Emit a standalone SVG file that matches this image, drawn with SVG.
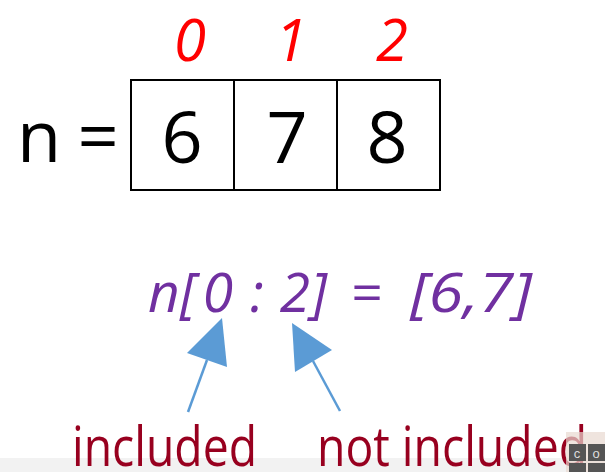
<svg xmlns="http://www.w3.org/2000/svg" width="605" height="472" viewBox="0 0 605 472">
<style>
.blk{font-family:"Open Sans","Liberation Sans",sans-serif;fill:#000}
.idx{font-family:"Open Sans","Liberation Sans",sans-serif;font-style:italic;fill:#ff0000;font-size:58px;text-anchor:middle}
.pur{font-family:"Open Sans","Liberation Sans",sans-serif;font-style:italic;fill:#7030a0;font-size:55px}
.lbl{font-family:"Open Sans","Liberation Sans",sans-serif;fill:#98001f;font-size:55px}
.arr{fill:#5b9bd5;stroke:none}
.shaft{stroke:#5b9bd5;stroke-width:2.5;fill:none}
</style>
<rect width="605" height="472" fill="#ffffff"/>
<rect x="0" y="458" width="605" height="14" fill="#f2f2f2"/>
<g id="label-n">
<text class="blk" x="17" y="162" font-size="72">n</text>
<text class="blk" x="98" y="162" font-size="72" text-anchor="middle">=</text>
</g>
<g id="indices">
<text class="idx" x="190" y="61">0</text>
<text class="idx" x="291" y="61">1</text>
<text class="idx" x="392" y="61">2</text>
</g>
<g id="array">
<rect x="131" y="80" width="309" height="110" fill="none" stroke="#000" stroke-width="2"/>
<line x1="234" y1="80" x2="234" y2="190" stroke="#000" stroke-width="2"/>
<line x1="337" y1="80" x2="337" y2="190" stroke="#000" stroke-width="2"/>
<text class="blk" x="182" y="163" font-size="72" text-anchor="middle">6</text>
<text class="blk" x="287" y="163" font-size="72" text-anchor="middle">7</text>
<text class="blk" x="387" y="163" font-size="72" text-anchor="middle">8</text>
</g>
<g id="slice">
<text class="pur" x="148" y="312">n[</text>
<text class="pur" x="218" y="312" text-anchor="middle">0</text>
<text class="pur" x="257" y="312" text-anchor="middle">:</text>
<text class="pur" x="295" y="312" text-anchor="middle">2</text>
<text class="pur" x="311" y="312">]</text>
<text class="pur" x="366" y="312" text-anchor="middle">=</text>
<text class="pur" x="410" y="312" textLength="122" lengthAdjust="spacingAndGlyphs">[6,7]</text>
</g>
<g id="connectors">
<polygon class="arr" points="222,318 187,353 227,367"/>
<line class="shaft" x1="207" y1="360" x2="188" y2="412"/>
<polygon class="arr" points="292,323 295,372 332,350"/>
<line class="shaft" x1="313" y1="361" x2="340" y2="411"/>
</g>
<g id="label-included">
<text class="lbl" x="72" y="466" textLength="185" lengthAdjust="spacingAndGlyphs">included</text>
</g>
<g id="label-not-included">
<text class="lbl" x="317" y="466" textLength="270" lengthAdjust="spacingAndGlyphs">not included</text>
</g>
<g id="logo">
<rect x="566" y="432" width="39" height="40" fill="#e8d8d0" opacity="0.7"/>
<rect x="569" y="444" width="17" height="17" fill="#555"/>
<rect x="588" y="444" width="17" height="17" fill="#555"/>
<rect x="569" y="463" width="17" height="9" fill="#555"/>
<rect x="588" y="463" width="17" height="9" fill="#555"/>
<text x="577" y="458" font-family="Liberation Sans,sans-serif" font-size="13" fill="#ddd" text-anchor="middle">c</text>
<text x="596" y="458" font-family="Liberation Sans,sans-serif" font-size="13" fill="#ddd" text-anchor="middle">o</text>
</g>
</svg>
